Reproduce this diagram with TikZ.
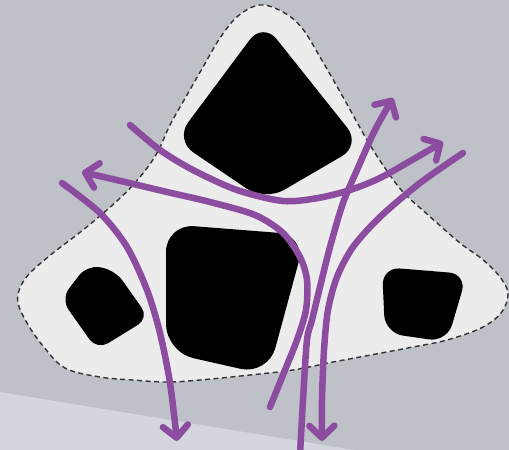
\documentclass[tikz,border=0pt]{standalone}
\usepackage{tikz}
\usetikzlibrary{arrows.meta}
\definecolor{bggray}{RGB}{190,193,200}
\definecolor{bandgray}{RGB}{211,214,220}
\definecolor{zonefill}{RGB}{236,236,236}
\definecolor{flowpurple}{RGB}{140,76,160}
\tikzset{
	zone/.style={fill=zonefill, draw=black!80, line width=1.4pt, dash pattern=on 5pt off 3.5pt}
}
\tikzset{
	hole/.style={fill=black, rounded corners=#1},
	hole/.default=22pt
}
\tikzset{
	flow/.style={draw=flowpurple, line width=6.5pt, line cap=round,
		-{Straight Barb[length=12pt,width=25pt,round]}}
}
\begin{document}
\begin{tikzpicture}[x=1pt, y=-1pt]
      \useasboundingbox (0,0) rectangle (509,450);
      \clip (0,0) rectangle (509,450);
      \fill[bggray] (0,0) rectangle (509,450);
      \fill[bandgray] (0,392) -- (360,451) -- (0,451) -- cycle;
      % dashed region around the obstacles
      \draw[zone] plot[smooth cycle, tension=0.6] coordinates {
        (260,5) (283,12) (302,28) (320,57) (343,97) (367,140) (385,168)
        (403,192) (427,214) (460,243) (482,259) (500,277) (508,294)
        (501,313) (481,328) (447,340) (413,347) (360,357) (333,362)
        (293,370) (250,375) (200,380) (167,382) (133,380) (100,377)
        (65,368) (43,346) (27,323) (18,303) (20,288) (30,273) (53,253)
        (83,230) (117,201) (140,177) (157,153) (170,125) (187,95)
        (203,67) (220,38) (238,16)};
      \fill[hole] (263,22) -- (361,145) -- (265,201) -- (175,140) -- cycle;
      \fill[hole=28pt] (166,224) -- (306,235) -- (268,375) -- (166,352) -- cycle;
      \fill[hole=13pt] (61,299) -- (87,265) -- (115,270) -- (149,318) -- (97,350) -- cycle;
      \fill[hole=18pt] (382,267) -- (467,274) -- (447,342) -- (385,333) -- cycle;
      % flows
      \draw[flow] plot[smooth] coordinates {(62,183) (100,213) (127,247)
        (147,290) (160,333) (170,383) (177,441)};
      \draw[flow] plot[smooth] coordinates {(270,407) (285,370) (297,340)
        (306,310) (307,280) (300,257) (283,233) (255,215) (210,202)
        (167,192) (125,182) (82,172)};
      \draw[flow] plot[smooth] coordinates {(130,125) (160,150) (193,170)
        (237,190) (283,201) (318,198) (350,190) (380,178) (412,160) (443,142)};
      \draw[flow] plot[smooth] coordinates {(300,455) (303,400) (307,340)
        (312,320) (320,287) (330,247) (343,203) (357,170) (375,130) (393,98)};
      \draw[flow] plot[smooth] coordinates {(463,153) (420,183) (380,217)
        (353,247) (337,277) (328,310) (324,350) (322,400) (322,441)};
    \end{tikzpicture}
\end{document}
